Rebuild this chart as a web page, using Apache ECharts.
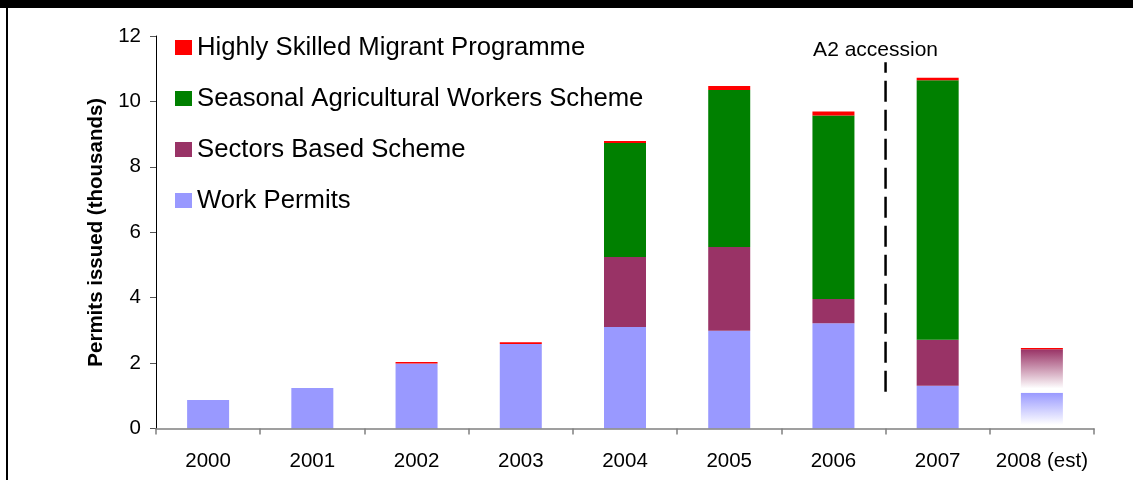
<!DOCTYPE html>
<html>
<head>
<meta charset="utf-8">
<style>
  html, body { margin: 0; padding: 0; background: #fff; }
  #chart { width: 1133px; height: 480px; }
</style>
<script src="https://cdn.jsdelivr.net/npm/echarts@6/dist/echarts.min.js"></script>
</head>
<body>
<div id="chart"></div>
<script>
// Permits issued by scheme, thousands
const years = ['2000', '2001', '2002', '2003', '2004', '2005', '2006', '2007', '2008 (est)'];
const workPermits      = [0.87, 1.24, 1.99, 2.58, 3.10, 2.99, 3.22, 1.31, 1.09];
const sectorsBased     = [0, 0, 0, 0, 2.14, 2.56, 0.74, 1.40, 1.33];
const seasonalAgri     = [0, 0, 0, 0, 3.49, 4.80, 5.61, 7.94, 0];
const highlySkilled    = [0, 0, 0.04, 0.06, 0.06, 0.12, 0.12, 0.07, 0.04];
const yTicks = { min: 0, max: 12, interval: 2 };

// A2 accession marker: sits on the boundary between 2006 and 2007
const accessionLabel = 'A2 accession';
const accessionBoundary = 7;          // category boundary index
const accessionSpan = [1.12, 11.2];   // vertical extent of the dashed line
const accessionLabelPos = [6.305, 11.56];

const estimateIndex = years.length - 1;

function fade(color) {
  return {
    type: 'linear', x: 0, y: 0, x2: 0, y2: 1,
    colorStops: [
      { offset: 0, color: color },
      { offset: 0.9, color: '#ffffff' },
      { offset: 1, color: '#ffffff' }
    ]
  };
}
function withEstimateFade(arr, color) {
  return arr.map((v, i) => i === estimateIndex ? { value: v, itemStyle: { color: fade(color) } } : v);
}

const font = '"Liberation Sans", Arial, sans-serif';
const chart = echarts.init(document.getElementById('chart'), null, { renderer: 'canvas' });

const barBase = { type: 'bar', stack: 'total', barWidth: 42, xAxisIndex: 0, yAxisIndex: 0 };

chart.setOption({
  animation: false,
  backgroundColor: '#ffffff',
  textStyle: { fontFamily: font },
  grid: { left: 156, right: 39, top: 36, bottom: 51.5 },
  legend: {
    orient: 'vertical',
    left: 175,
    top: 34.5,
    padding: 0,
    itemWidth: 17,
    itemHeight: 15,
    itemGap: 25,
    icon: 'rect',
    textStyle: { fontFamily: font, fontSize: 25.7, lineHeight: 25, color: '#000' },
    data: ['Highly Skilled Migrant Programme', 'Seasonal Agricultural Workers Scheme', 'Sectors Based Scheme', 'Work Permits']
  },
  xAxis: [
    {
      type: 'category',
      data: years,
      z: 10,
      axisLine: { lineStyle: { color: '#808080', width: 1.5 } },
      axisTick: { show: true, length: 6, lineStyle: { color: '#808080', width: 1.5 } },
      axisLabel: { color: '#000', fontSize: 20.5, fontFamily: font, margin: 22, interval: 0 }
    },
    { type: 'value', min: 0, max: years.length, show: false }
  ],
  yAxis: {
    type: 'value',
    min: yTicks.min, max: yTicks.max, interval: yTicks.interval,
    name: 'Permits issued (thousands)',
    nameLocation: 'middle',
    nameGap: 48,
    nameTextStyle: { fontFamily: font, fontSize: 20.5, fontWeight: 'bold', color: '#000' },
    axisLine: { show: true, lineStyle: { color: '#000', width: 1 } },
    axisTick: { show: true, length: 6, lineStyle: { color: '#555' } },
    axisLabel: { color: '#000', fontSize: 20.5, fontFamily: font, margin: 15 },
    splitLine: { show: false }
  },
  series: [
    Object.assign({}, barBase, { name: 'Work Permits', itemStyle: { color: '#9999FF' }, data: withEstimateFade(workPermits, '#9999FF') }),
    Object.assign({}, barBase, { name: 'Sectors Based Scheme', itemStyle: { color: '#993366' }, data: withEstimateFade(sectorsBased, '#993366') }),
    Object.assign({}, barBase, { name: 'Seasonal Agricultural Workers Scheme', itemStyle: { color: '#008000' }, data: seasonalAgri }),
    Object.assign({}, barBase, { name: 'Highly Skilled Migrant Programme', itemStyle: { color: '#FF0000' }, data: highlySkilled }),
    {
      type: 'line',
      xAxisIndex: 1, yAxisIndex: 0,
      symbol: 'none',
      silent: true,
      lineStyle: { color: '#000', width: 2.5, type: [21, 8] },
      data: [[accessionBoundary, accessionSpan[0]], [accessionBoundary, accessionSpan[1]]],
      z: 5
    },
    {
      type: 'scatter',
      xAxisIndex: 1, yAxisIndex: 0,
      symbolSize: 0,
      silent: true,
      itemStyle: { opacity: 1, color: '#000' },
      label: {
        show: true, position: 'inside', align: 'left', verticalAlign: 'middle',
        formatter: accessionLabel, color: '#000', fontSize: 21, fontFamily: font,
        textBorderWidth: 0, opacity: 1
      },
      data: [accessionLabelPos]
    }
  ],
  graphic: [
    { type: 'rect', left: 0, top: 0, shape: { width: 1133, height: 8 }, style: { fill: '#000' }, z: 100 },
    { type: 'rect', left: 6, top: 0, shape: { width: 2, height: 480 }, style: { fill: '#000' }, z: 100 }
  ]
});
</script>
</body>
</html>
